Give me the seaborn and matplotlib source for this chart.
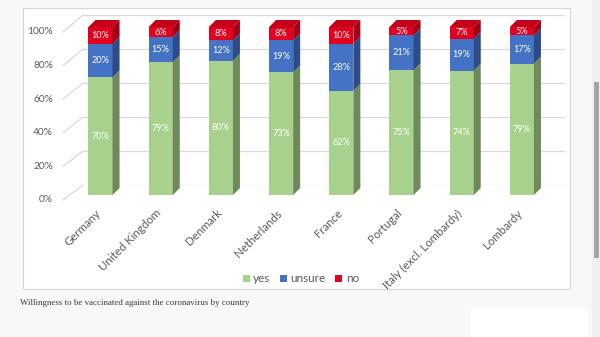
import numpy as np
import pandas as pd
import matplotlib
matplotlib.use("Agg")
import matplotlib.pyplot as plt
import matplotlib.transforms as mtransforms
import seaborn as sns
from matplotlib.patches import Polygon, Rectangle
from matplotlib.lines import Line2D

# ---------------- data ----------------
countries = ["Germany", "United Kingdom", "Denmark", "Netherlands", "France",
             "Portugal", "Italy (excl. Lombardy)", "Lombardy"]
yes = [70, 79, 80, 73, 62, 75, 74, 79]
unsure = [20, 15, 12, 19, 28, 21, 19, 17]
no = [10, 6, 8, 8, 10, 5, 7, 5]
series_names = ["yes", "unsure", "no"]
y_ticks = [0, 20, 40, 60, 80, 100]
y_tick_labels = ["0%", "20%", "40%", "60%", "80%", "100%"]
caption = "Willingness to be vaccinated against the coronavirus by country"

# ---------------- style ----------------
sns.set_theme(style="white")
plt.rcParams["font.family"] = ["Lato", "DejaVu Sans"]

front = {"yes": "#A9D18E", "unsure": "#4472C4", "no": "#E2001E"}
side = {"yes": "#6E8A5B", "unsure": "#2D4B86", "no": "#A20014"}
top_col = "#C40019"
grid_col = "#D9D9D9"
text_col = "#595959"

W, H = 600, 337
fig = plt.figure(figsize=(W / 100, H / 100), dpi=100)
fig.patch.set_facecolor("#F8F8F8")


def box(x0, y0, x1, y1):
    return [x0 / W, 1 - y1 / H, (x1 - x0) / W, (y1 - y0) / H]


# chart frame, page decorations
fig.add_artist(Rectangle((23 / W, 1 - 289 / H), (570 - 23) / W, (289 - 8) / H,
                         transform=fig.transFigure, facecolor="white",
                         edgecolor="#D6D6D6", lw=0.8, zorder=0))
fig.add_artist(Rectangle((470 / W, 0), (588 - 470) / W, (337 - 309) / H,
                         transform=fig.transFigure, facecolor="white",
                         edgecolor="none", zorder=0))
fig.add_artist(Rectangle((592 / W, 0), 8 / W, 1, transform=fig.transFigure,
                         facecolor="#F0F0F0", edgecolor="none", zorder=0))
fig.add_artist(Rectangle((594 / W, 1 - 258 / H), 5 / W, (258 - 82) / H,
                         transform=fig.transFigure, facecolor="#A5A5A5",
                         edgecolor="none", zorder=0))

# ---------------- back wall gridlines ----------------
ax_bg = fig.add_axes(box(83, 15, 565, 185))
ax_bg.set_facecolor("none")
ax_bg.set_ylim(0, 100)
ax_bg.set_xlim(0, 1)
ax_bg.set_yticks(y_ticks)
ax_bg.set_xticks([])
ax_bg.tick_params(left=False, labelleft=False)
ax_bg.yaxis.grid(True, color=grid_col, lw=0.9)
for s in ax_bg.spines.values():
    s.set_visible(False)

# ---------------- bars ----------------
ax = fig.add_axes(box(63, 27, 567, 195))
ax.set_facecolor("none")

total = np.array(yes) + np.array(unsure) + np.array(no)
cum_yes = np.array(yes) / total * 100
cum_unsure = (np.array(yes) + np.array(unsure)) / total * 100
cum_no = total / total * 100

df = pd.DataFrame({"country": countries, "yes": cum_yes,
                   "unsure": cum_unsure, "no": cum_no})

bw = 0.4
for name in ["no", "unsure", "yes"]:
    sns.barplot(data=df, x="country", y=name, color=front[name], saturation=1,
                width=bw, linewidth=0, ax=ax, zorder=3)

ax.set_ylim(0, 100)
ax.set_xlim(-0.623, 7.749)
ax.set_ylabel("")
ax.set_xlabel("")
ax.set_yticks([])
for s in ax.spines.values():
    s.set_visible(False)
ax.tick_params(axis="x", length=0, pad=9, labelsize=8.3, labelcolor=text_col)
shift = mtransforms.ScaledTranslation(-5 / 100, 0, fig.dpi_scale_trans)
for lbl in ax.get_xticklabels():
    lbl.set_rotation(45)
    lbl.set_ha("right")
    lbl.set_rotation_mode("anchor")
    lbl.set_transform(lbl.get_transform() + shift)

# segment labels
for i in range(len(countries)):
    lows = [0, cum_yes[i], cum_unsure[i]]
    highs = [cum_yes[i], cum_unsure[i], cum_no[i]]
    vals = [yes[i], unsure[i], no[i]]
    for lo, hi, v in zip(lows, highs, vals):
        ax.text(i, (lo + hi) / 2, f"{v}%", ha="center", va="center",
                color="white", fontsize=6.6, zorder=6)

# 3D side faces and top faces (derived from bar geometry)
dx, dy = 7, 7
for i in range(len(countries)):
    segs = [("yes", 0, cum_yes[i]), ("unsure", cum_yes[i], cum_unsure[i]),
            ("no", cum_unsure[i], cum_no[i])]
    x_r = i + bw / 2
    x_l = i - bw / 2
    for name, lo, hi in segs:
        p1 = ax.transData.transform((x_r, lo))
        p2 = ax.transData.transform((x_r, hi))
        pts = [p1, p2, p2 + [dx, dy], p1 + [dx, dy]]
        fig.add_artist(Polygon(pts, closed=True, transform=None,
                               facecolor=side[name], edgecolor="none",
                               zorder=4))
    t1 = ax.transData.transform((x_l, cum_no[i]))
    t2 = ax.transData.transform((x_r, cum_no[i]))
    pts = [t1, t2, t2 + [dx, dy], t1 + [dx, dy]]
    fig.add_artist(Polygon(pts, closed=True, transform=None,
                           facecolor=top_col, edgecolor="none", zorder=4))

# y tick labels on the front floor edge and diagonal connectors to back wall
front_off = -5
for t, lab in zip(y_ticks, y_tick_labels):
    pf = ax.transData.transform((ax.get_xlim()[0], t)) + [0, front_off]
    pb = ax_bg.get_yaxis_transform().transform((0, t))
    fig.add_artist(Line2D([pf[0], pb[0]], [pf[1], pb[1]], transform=None,
                          color=grid_col, lw=0.9, zorder=1))
    fx, fy = fig.transFigure.inverted().transform(pf - [10, 0])
    fig.text(fx, fy, lab, ha="right", va="center", fontsize=7.3, color=text_col)

# legend
handles = [Rectangle((0, 0), 1, 1, facecolor=front[n], edgecolor="none")
           for n in series_names]
leg = fig.legend(handles, series_names, loc="center",
                 bbox_to_anchor=(301 / W, 1 - 279 / H), ncol=3, frameon=False,
                 handlelength=0.6, handleheight=0.6, handletextpad=0.3,
                 columnspacing=0.8, fontsize=8.5)
for txt in leg.get_texts():
    txt.set_color(text_col)

# caption
fig.text(20 / W, 1 - 303 / H, caption, ha="left", va="center",
         fontsize=6.4, color="#3A3A3A", family=["Liberation Serif", "DejaVu Serif"])

fig.savefig("out.png", dpi=100, facecolor=fig.get_facecolor())
